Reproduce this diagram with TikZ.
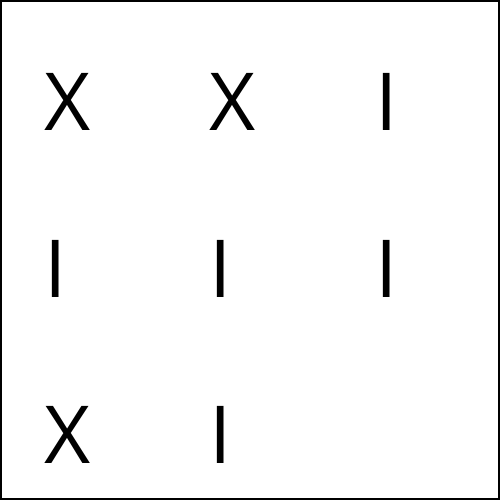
\documentclass[tikz,border=0pt]{standalone}
\usepackage{fontspec}
\setmainfont{Open Sans}
\begin{document}
\begin{tikzpicture}[x=1pt,y=-1pt,
  glyph/.style={anchor=base west,inner sep=0pt,font=\fontsize{80}{80}\selectfont}]
\useasboundingbox (0,0) rectangle (500,500);
\draw[line width=2pt] (1,1) rectangle (499,499);
\node[glyph] (a1) at (44,131) {X};
\node[glyph] (a2) at (209.5,131) {X};
\node[glyph] (a3) at (375,131) {I};
\node[glyph] (b1) at (44,297) {I};
\node[glyph] (b2) at (209.5,297) {I};
\node[glyph] (b3) at (375,297) {I};
\node[glyph] (c1) at (44,463) {X};
\node[glyph] (c2) at (209.5,463) {I};
\end{tikzpicture}
\end{document}
